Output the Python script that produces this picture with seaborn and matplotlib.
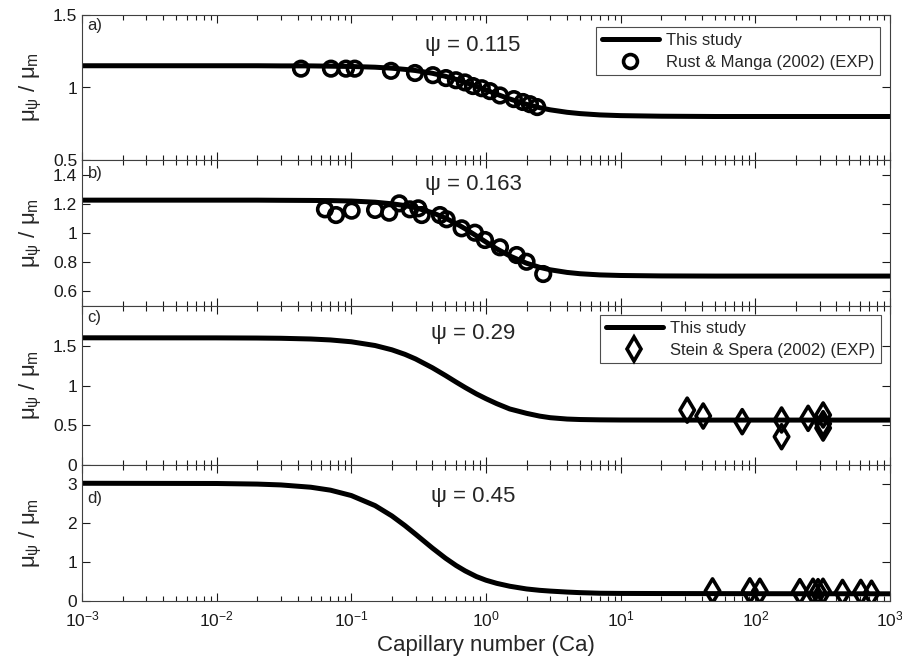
import numpy as np
import pandas as pd
import seaborn as sns
import matplotlib.pyplot as plt
from matplotlib.lines import Line2D
from matplotlib.ticker import FixedLocator, NullFormatter, FormatStrFormatter

# --- data ---
# model curves ("This study"), sampled along the capillary number axis
ca_curve = [0.001, 0.01, 0.02, 0.03, 0.05, 0.07, 0.1, 0.15, 0.2, 0.25, 0.3, 0.4, 0.5, 0.6, 0.7,
            0.85, 1.0, 1.2, 1.5, 2.0, 2.5, 3.0, 4.0, 5.0, 7.0, 10.0, 20.0, 50.0, 100.0, 1000.0]
mu_a = [1.150, 1.150, 1.150, 1.149, 1.149, 1.147, 1.145, 1.140, 1.133, 1.125, 1.117, 1.098, 1.077, 1.056, 1.036,
        1.008, 0.983, 0.954, 0.921, 0.884, 0.861, 0.846, 0.829, 0.820, 0.811, 0.806, 0.802, 0.800, 0.800, 0.800]
mu_b = [1.225, 1.225, 1.225, 1.224, 1.223, 1.222, 1.219, 1.211, 1.200, 1.188, 1.173, 1.139, 1.102, 1.065, 1.029,
        0.980, 0.938, 0.892, 0.843, 0.793, 0.765, 0.748, 0.730, 0.721, 0.713, 0.709, 0.706, 0.705, 0.705, 0.705]
mu_c = [1.600, 1.599, 1.597, 1.594, 1.585, 1.573, 1.550, 1.503, 1.449, 1.392, 1.334, 1.223, 1.126, 1.043, 0.975,
        0.894, 0.834, 0.772, 0.705, 0.650, 0.615, 0.595, 0.578, 0.572, 0.568, 0.566, 0.565, 0.565, 0.565, 0.565]
mu_d = [3.030, 3.024, 3.009, 2.987, 2.928, 2.852, 2.714, 2.455, 2.190, 1.941, 1.719, 1.362, 1.102, 0.913, 0.775,
        0.628, 0.535, 0.455, 0.380, 0.310, 0.275, 0.255, 0.230, 0.215, 0.200, 0.195, 0.192, 0.190, 0.188, 0.185]

# Rust & Manga (2002) experiments
ca_rm_a = [0.0423, 0.0706, 0.0912, 0.106, 0.197, 0.297, 0.403, 0.504, 0.598, 0.697,
           0.80, 0.93, 1.07, 1.27, 1.61, 1.88, 2.12, 2.40]
mu_rm_a = [1.13, 1.13, 1.13, 1.13, 1.115, 1.10, 1.085, 1.065, 1.05, 1.035,
           1.01, 0.995, 0.975, 0.945, 0.92, 0.90, 0.885, 0.865]
ca_rm_b = [0.0637, 0.0769, 0.1005, 0.150, 0.191, 0.227, 0.272, 0.314, 0.333, 0.455,
           0.510, 0.659, 0.827, 0.982, 1.27, 1.69, 2.00, 2.66]
mu_rm_b = [1.162, 1.123, 1.153, 1.158, 1.139, 1.203, 1.162, 1.169, 1.123, 1.123,
           1.094, 1.032, 1.002, 0.952, 0.902, 0.849, 0.803, 0.719]

# Stein & Spera (2002) experiments
ca_ss_c = [31.2, 41.0, 79.9, 156.6, 156.6, 246.7, 318.7, 318.7, 318.7]
mu_ss_c = [0.69, 0.616, 0.545, 0.566, 0.356, 0.587, 0.629, 0.52, 0.465]
ca_ss_d = [48.1, 91.0, 108.0, 214.0, 268.0, 292.0, 318.0, 444.0, 607.0, 729.0]
mu_ss_d = [0.26, 0.26, 0.25, 0.24, 0.25, 0.24, 0.25, 0.22, 0.22, 0.20]

decades = [1e-3, 1e-2, 1e-1, 1e0, 1e1, 1e2, 1e3]
psi_text = ['\u03c8 = 0.115', '\u03c8 = 0.163', '\u03c8 = 0.29', '\u03c8 = 0.45']
panel_tags = ['a)', 'b)', 'c)', 'd)']

sns.set_style('ticks')
plt.rcParams['font.family'] = ['Liberation Sans', 'DejaVu Sans']
plt.rcParams['mathtext.fontset'] = 'custom'
plt.rcParams['mathtext.rm'] = 'Liberation Sans'
plt.rcParams['mathtext.it'] = 'Liberation Sans'

fig = plt.figure(figsize=(9.03, 6.59), dpi=100)

W, H = 903, 659
left, right = 82, 890
bounds = [(15, 160), (160, 306), (306, 465), (465, 601)]
axes = []
for top, bot in bounds:
    ax = fig.add_axes([left / W, (H - bot) / H, (right - left) / W, (bot - top) / H])
    axes.append(ax)

curves = [mu_a, mu_b, mu_c, mu_d]
ylims = [(0.5, 1.5), (0.5, 1.5), (0, 2), (0, 3.5)]
yticks = [[0.5, 1, 1.5], [0.6, 0.8, 1, 1.2, 1.4], [0, 0.5, 1, 1.5], [0, 1, 2, 3]]
psi_y = [0.79, 0.83, 0.83, 0.765]
tag_y = [0.93, 0.91, 0.93, 0.757]
minor = [m * d for d in decades[:-1] for m in range(2, 10)]

for i, ax in enumerate(axes):
    sns.lineplot(x=ca_curve, y=curves[i], color='black', linewidth=3.6, ax=ax, zorder=2)
    ax.set_xscale('log')
    ax.set_xlim(1e-3, 1e3)
    ax.set_ylim(*ylims[i])
    ax.set_yticks(yticks[i])
    ax.yaxis.set_major_formatter(FormatStrFormatter('%g'))
    ax.set_xticks(decades)
    ax.xaxis.set_minor_locator(FixedLocator(minor))
    ax.xaxis.set_minor_formatter(NullFormatter())
    ax.tick_params(which='both', direction='in', top=True, right=True, labelsize=12.5, colors='0.1')
    ax.tick_params(which='major', length=6, width=0.8)
    ax.tick_params(which='minor', length=3.5, width=0.8)
    for s in ax.spines.values():
        s.set_linewidth(0.8)
        s.set_color('0.25')
    ax.set_ylabel(r'$\mu_\psi$ / $\mu_m$', fontsize=16)
    ax.yaxis.set_label_coords(-0.047, 0.5)
    ax.text(0.484, psi_y[i], psi_text[i], transform=ax.transAxes, ha='center', va='center', fontsize=16)
    ax.text(0.007, tag_y[i], panel_tags[i], transform=ax.transAxes, ha='left', va='center', fontsize=12)
    if i < 3:
        ax.set_xticklabels([])
        ax.set_xlabel('')

# experimental points
sns.scatterplot(x=ca_rm_a, y=mu_rm_a, marker='o', s=110, facecolor='none',
                edgecolor='black', linewidth=2.6, ax=axes[0], zorder=3)
sns.scatterplot(x=ca_rm_b, y=mu_rm_b, marker='o', s=110, facecolor='none',
                edgecolor='black', linewidth=2.6, ax=axes[1], zorder=3)
sns.scatterplot(x=ca_ss_c, y=mu_ss_c, marker='d', s=150, facecolor='none',
                edgecolor='black', linewidth=2.6, ax=axes[2], zorder=3)
sns.scatterplot(x=ca_ss_d, y=mu_ss_d, marker='d', s=150, facecolor='none',
                edgecolor='black', linewidth=2.6, ax=axes[3], zorder=3)

axes[3].set_xticklabels([r'$10^{%d}$' % p for p in range(-3, 4)])
axes[3].set_xlabel('Capillary number (Ca)', fontsize=16)
axes[3].tick_params(axis='x', pad=6)

line_h = Line2D([], [], color='black', linewidth=3.6)
circ_h = Line2D([], [], color='black', marker='o', linestyle='none', markersize=10,
                markerfacecolor='none', markeredgewidth=2.6)
diam_h = Line2D([], [], color='black', marker='d', linestyle='none', markersize=12,
                markerfacecolor='none', markeredgewidth=2.6)

leg_kw = dict(loc='upper right', fontsize=12, frameon=True, fancybox=False, framealpha=1,
              edgecolor='0.3', borderaxespad=0, handlelength=3.4, labelspacing=0.4,
              borderpad=0.35, handletextpad=0.45)
lg = axes[0].legend([line_h, circ_h], ['This study', 'Rust & Manga (2002) (EXP)'],
                    bbox_to_anchor=(0.988, 0.917), **leg_kw)
lg.get_frame().set_linewidth(0.8)
lg = axes[2].legend([line_h, diam_h], ['This study', 'Stein & Spera (2002) (EXP)'],
                    bbox_to_anchor=(0.989, 0.943), **leg_kw)
lg.get_frame().set_linewidth(0.8)

fig.savefig('out.png', dpi=100)
